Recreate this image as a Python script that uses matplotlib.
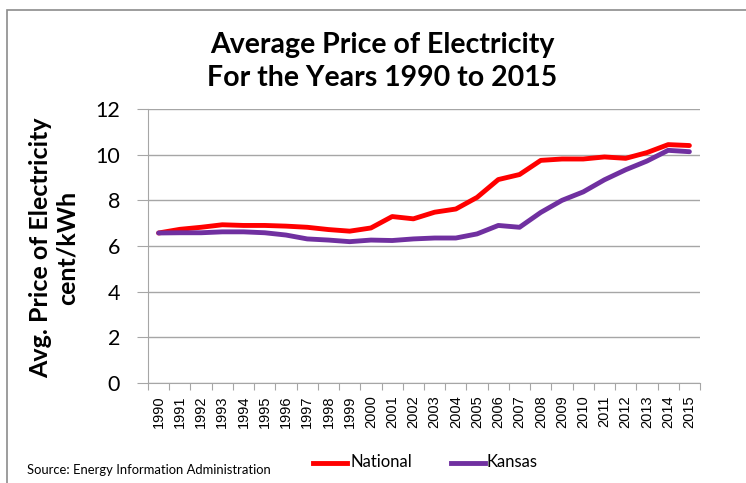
import matplotlib.pyplot as plt
from matplotlib.lines import Line2D
from matplotlib.patches import Rectangle

years = [str(y) for y in range(1990, 2016)]
national = [6.57, 6.73, 6.82, 6.93, 6.90, 6.90, 6.87, 6.82, 6.72, 6.65, 6.79, 7.29, 7.19,
            7.48, 7.62, 8.13, 8.91, 9.13, 9.75, 9.81, 9.81, 9.90, 9.84, 10.09, 10.44, 10.40]
kansas = [6.57, 6.58, 6.58, 6.62, 6.62, 6.58, 6.48, 6.31, 6.26, 6.19, 6.26, 6.24, 6.31,
          6.35, 6.35, 6.53, 6.90, 6.82, 7.47, 8.00, 8.37, 8.90, 9.34, 9.72, 10.19, 10.13]
yticks = [0, 2, 4, 6, 8, 10, 12]

font = ['Lato', 'DejaVu Sans']
grid_col = '#A6A6A6'

fig = plt.figure(figsize=(7.46, 4.83), dpi=100)
ax = fig.add_axes([148/746, 1-383/483, 552/746, 274/483])

x = list(range(len(years)))
ax.plot(x, national, color='#FF0000', lw=3.5, solid_capstyle='round', zorder=3)
ax.plot(x, kansas, color='#7030A0', lw=3.5, solid_capstyle='round', zorder=3)

ax.set_xlim(-0.5, len(years) - 0.5)
ax.set_ylim(0, 12)
ax.set_yticks(yticks)
ax.set_yticklabels([str(v) for v in yticks], fontsize=15.5, family=font)
ax.yaxis.grid(True, color=grid_col, lw=1)
ax.set_axisbelow(True)

ax.set_xticks([i - 0.5 for i in range(len(years) + 1)])
ax.set_xticklabels([])
ax.set_xticks(x, minor=True)
ax.set_xticklabels(years, minor=True, rotation=90, fontsize=10.5, family='Liberation Sans')
ax.tick_params(axis='x', which='minor', length=0, pad=9)
ax.tick_params(axis='x', which='major', length=5, color=grid_col, direction='out')
ax.tick_params(axis='y', length=8, color=grid_col, pad=12)

for s in ['top', 'right']:
    ax.spines[s].set_visible(False)
for s in ['left', 'bottom']:
    ax.spines[s].set_color(grid_col)

fig.text(382/746, 1-45/483, 'Average Price of Electricity', ha='center', va='center',
         fontsize=20.5, fontweight='bold', family=font)
fig.text(382/746, 1-78/483, 'For the Years 1990 to 2015', ha='center', va='center',
         fontsize=20.5, fontweight='bold', family=font)
fig.text(54/746, 1-248/483, 'Avg. Price of Electricity\ncent/kWh', ha='center', va='center',
         rotation=90, fontsize=18, fontweight='bold', family=font, linespacing=1.2)

fig.text(27/746, 1-470/483, 'Source: Energy Information Administration', ha='left', va='center',
         fontsize=9.4, family=font)

# legend drawn by hand at the bottom
fig.add_artist(Line2D([313/746, 347/746], [1-463/483, 1-463/483], color='#FF0000', lw=3.5,
                      transform=fig.transFigure))
fig.text(350/746, 1-462/483, 'National', ha='left', va='center', fontsize=12, family=font)
fig.add_artist(Line2D([451/746, 485/746], [1-463/483, 1-463/483], color='#7030A0', lw=3.5,
                      transform=fig.transFigure))
fig.text(487/746, 1-462/483, 'Kansas', ha='left', va='center', fontsize=12, family=font)

# chart area border
fig.add_artist(Rectangle((7/746, -0.1), 1.0, 1 - 10/483 + 0.1, transform=fig.transFigure,
                         fill=False, ec='#8C8C8C', lw=1.2))

fig.savefig('out.png', dpi=100)
